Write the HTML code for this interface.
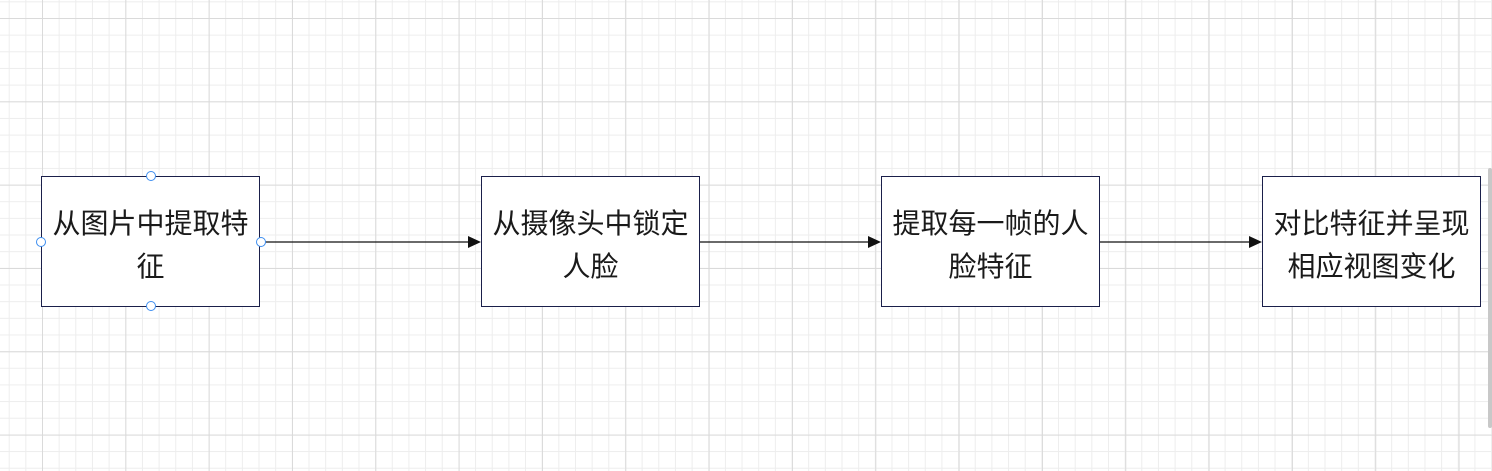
<!DOCTYPE html>
<html><head><meta charset="utf-8"><style>
html,body{margin:0;padding:0;width:1492px;height:471px;overflow:hidden;background:#fff;}
.grid{position:absolute;left:0;top:0;width:1492px;height:471px;
background-image:
linear-gradient(to right,#dadada 1px,transparent 1px),
linear-gradient(to bottom,#dadada 1px,transparent 1px),
linear-gradient(to right,#ededed 1px,transparent 1px),
linear-gradient(to bottom,#ededed 1px,transparent 1px);
background-size:83.33px 83.33px,83.33px 83.33px,16.667px 16.667px,16.667px 16.667px;
background-position:42px 18px,42px 18px,42px 18px,42px 18px;}
.box{position:absolute;top:176px;width:217px;height:123px;padding-top:6px;border:1px solid #1a1f4a;background:#fff;
display:flex;align-items:center;justify-content:center;text-align:center;
font-family:"Liberation Sans","Noto Sans CJK SC",sans-serif;font-size:28px;line-height:43px;color:#1a1a1a;white-space:nowrap;}
.h{position:absolute;width:8px;height:8px;border:1px solid #3d8ef0;border-radius:50%;background:#fff;}
.sb{position:absolute;left:1488px;top:168px;width:4px;height:260px;background:#c8c8c8;border-radius:2px;}
</style></head><body>
<div class="grid"></div>
<svg width="1492" height="471" style="position:absolute;left:0;top:0">
<g stroke="#111" stroke-width="1.2">
<line x1="260" y1="242" x2="470" y2="242"/>
<line x1="700" y1="242" x2="870" y2="242"/>
<line x1="1100" y1="242" x2="1251" y2="242"/>
</g>
<g fill="#111">
<polygon points="481,242 468,236 468,248"/>
<polygon points="881,242 868,236 868,248"/>
<polygon points="1262,242 1249,236 1249,248"/>
</g>
</svg>
<div class="box" style="left:41px">从图片中提取特<br>征</div>
<div class="box" style="left:481px">从摄像头中锁定<br>人脸</div>
<div class="box" style="left:881px">提取每一帧的人<br>脸特征</div>
<div class="box" style="left:1262px">对比特征并呈现<br>相应视图变化</div>
<div class="h" style="left:146px;top:171px"></div>
<div class="h" style="left:146px;top:301px"></div>
<div class="h" style="left:36px;top:237px"></div>
<div class="h" style="left:256px;top:237px"></div>
<div class="sb"></div>
</body></html>
